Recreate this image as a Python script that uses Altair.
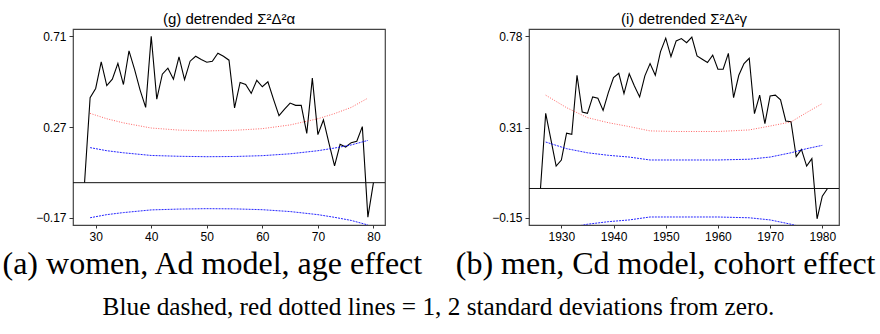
import altair as alt
import pandas as pd

# ---------------- Panel (a): women, Ad model, age effect ----------------
age = list(range(28, 81))
age_effect = [
    0.0, 0.412, 0.457, 0.586, 0.471, 0.502, 0.579, 0.476, 0.639, 0.549,
    0.449, 0.365, 0.710, 0.405, 0.526, 0.555, 0.502, 0.610, 0.500, 0.589,
    0.613, 0.597, 0.584, 0.589, 0.628, 0.613, 0.594, 0.363, 0.486, 0.476,
    0.433, 0.496, 0.465, 0.489, 0.405, 0.325, 0.357, 0.386, 0.375, 0.375,
    0.239, 0.507, 0.233, 0.304, 0.191, 0.081, 0.186, 0.173, 0.194, 0.201,
    0.272, -0.167, 0.0,
]
age_sd_x = [29, 32, 35, 40, 45, 50, 55, 60, 65, 70, 73, 76, 79]
age_blue_up = [0.170, 0.155, 0.145, 0.132, 0.128, 0.126, 0.127, 0.131, 0.140, 0.155, 0.168, 0.183, 0.205]
age_red_up = [0.336, 0.310, 0.290, 0.265, 0.255, 0.251, 0.254, 0.262, 0.280, 0.310, 0.335, 0.365, 0.410]
age_blue_low = [-0.170, -0.155, -0.145, -0.132, -0.128, -0.126, -0.127, -0.131, -0.140, -0.155, -0.168, -0.183, -0.205]
age_xticks = [30, 40, 50, 60, 70, 80]
age_yticks = [-0.17, 0.27, 0.71]

# ---------------- Panel (b): men, Cd model, cohort effect ----------------
cohort = list(range(1926, 1982))
cohort_effect = [
    0.0, 0.385, 0.250, 0.115, 0.146, 0.283, 0.278, 0.580, 0.392, 0.385,
    0.469, 0.462, 0.400, 0.491, 0.568, 0.590, 0.486, 0.588, 0.525, 0.469,
    0.577, 0.640, 0.580, 0.701, 0.770, 0.676, 0.756, 0.768, 0.747, 0.775,
    0.679, 0.662, 0.645, 0.683, 0.611, 0.611, 0.692, 0.465, 0.580, 0.640,
    0.667, 0.383, 0.478, 0.332, 0.474, 0.478, 0.454, 0.346, 0.342, 0.163,
    0.200, 0.115, 0.153, -0.155, -0.039, 0.0,
]
cohort_sd_x = [1927, 1931, 1935, 1939, 1943, 1947, 1952, 1956, 1960, 1966, 1970, 1974, 1977, 1980]
cohort_blue_up = [0.238, 0.204, 0.183, 0.170, 0.161, 0.146, 0.146, 0.146, 0.146, 0.150, 0.161, 0.183, 0.204, 0.221]
cohort_red_up = [0.478, 0.414, 0.363, 0.337, 0.317, 0.295, 0.292, 0.292, 0.292, 0.300, 0.320, 0.341, 0.389, 0.435]
cohort_blue_low = [-0.238, -0.204, -0.183, -0.170, -0.161, -0.146, -0.146, -0.146, -0.146, -0.150, -0.161, -0.183, -0.204, -0.221]
cohort_xticks = [1930, 1940, 1950, 1960, 1970, 1980]
cohort_yticks = [-0.15, 0.31, 0.78]


def panel(x, eff, sdx, bup, rup, blow, xdom, ydom, xticks, yticks,
          title, caption, cap_align, cap_x, width):
    X = alt.X("x:Q",
              scale=alt.Scale(domain=xdom, nice=False, zero=False),
              axis=alt.Axis(values=xticks, format="d", tickSize=3, labelPadding=3,
                            title=caption, titleFont="Liberation Serif",
                            titleFontSize=32, titleFontWeight="normal",
                            titleColor="black", titleAlign=cap_align,
                            titleX=cap_x, titleY=48, titleBaseline="alphabetic"))
    Y = alt.Y("v:Q",
              scale=alt.Scale(domain=ydom, nice=False, zero=False),
              axis=alt.Axis(values=yticks, format=".2f", tickSize=4,
                            labelPadding=3, title=None))
    main = pd.DataFrame({"x": x, "v": eff})
    blue_u = pd.DataFrame({"x": sdx, "v": bup})
    red_u = pd.DataFrame({"x": sdx, "v": rup})
    blue_l = pd.DataFrame({"x": sdx, "v": blow})
    zero = pd.DataFrame({"v": [0.0]})

    l_main = alt.Chart(main).mark_line(color="black", strokeWidth=1.1, clip=True).encode(x=X, y=Y)
    l_bu = alt.Chart(blue_u).mark_line(color="#0000ff", strokeWidth=1, strokeDash=[2, 1],
                                       opacity=0.85, clip=True).encode(x=X, y=Y)
    l_ru = alt.Chart(red_u).mark_line(color="#ff3030", strokeWidth=1, strokeDash=[1, 1.5],
                                      opacity=0.75, clip=True).encode(x=X, y=Y)
    l_bl = alt.Chart(blue_l).mark_line(color="#0000ff", strokeWidth=1, strokeDash=[2, 1],
                                       opacity=0.85, clip=True).encode(x=X, y=Y)
    r0 = alt.Chart(zero).mark_rule(color="#111", strokeWidth=1).encode(y=Y)

    return alt.layer(l_main, l_ru, l_bu, l_bl, r0).properties(
        width=width, height=196,
        title=alt.TitleParams(text=title, font="Liberation Sans", fontSize=15,
                              fontWeight="normal", anchor="middle", frame="group",
                              baseline="alphabetic", offset=-10, color="black"),
    )


left = panel(age, age_effect, age_sd_x, age_blue_up, age_red_up, age_blue_low,
             [25.92, 82.08], [-0.2052, 0.7452], age_xticks, age_yticks,
             "(g) detrended \u03a3\u00b2\u0394\u00b2\u03b1",
             "(a) women, Ad model, age effect", "left", -71, 312)
right = panel(cohort, cohort_effect, cohort_sd_x, cohort_blue_up, cohort_red_up, cohort_blue_low,
              [1923.8, 1983.2], [-0.187, 0.817], cohort_xticks, cohort_yticks,
              "(i) detrended \u03a3\u00b2\u0394\u00b2\u03b3",
              "(b) men, Cd model, cohort effect", "right", 346, 310)

chart = alt.hconcat(left, right, spacing=144, bounds="flush").properties(
    title=alt.TitleParams(
        text="Blue dashed, red dotted lines = 1, 2 standard deviations from zero.",
        orient="bottom", anchor="middle", font="Liberation Serif", fontSize=25.3,
        fontWeight="normal", baseline="top", offset=15, color="black"),
    padding={"left": 1, "right": 4, "top": 11, "bottom": 5},
).configure_view(
    stroke="#444", strokeWidth=1.2
).configure_axis(
    labelFont="Liberation Sans", labelFontSize=12, labelColor="black",
    tickColor="#333", domain=False, grid=False
)

chart.save("out.html", embed_options={"renderer": "svg", "actions": False})
